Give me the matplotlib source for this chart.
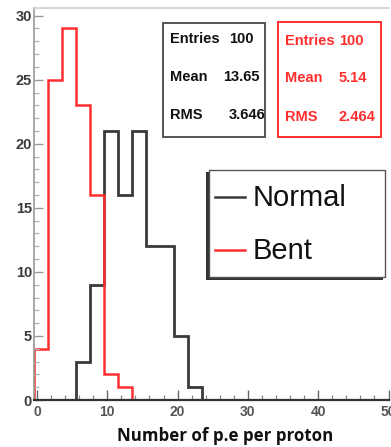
import numpy as np
import matplotlib
matplotlib.use('Agg')
import matplotlib.pyplot as plt
from matplotlib.patches import Rectangle
from matplotlib.lines import Line2D

# histogram binning: 25 bins of width 2 starting at -0.5
bin_start = -0.5
bin_width = 2.0
n_bins = 25

normal_counts = [0, 0, 0, 3, 9, 21, 16, 21, 12, 12, 5, 1, 0,
                 0, 0, 0, 0, 0, 0, 0, 0, 0, 0, 0, 0]
bent_counts = [4, 25, 29, 23, 16, 2, 1, 0, 0, 0, 0, 0, 0,
               0, 0, 0, 0, 0, 0, 0, 0, 0, 0, 0, 0]

normal_stats = [('Entries', '100'), ('Mean', '13.65'), ('RMS', '3.646')]
bent_stats = [('Entries', '100'), ('Mean', '5.14'), ('RMS', '2.464')]
legend_labels = ['Normal', 'Bent']
x_label = 'Number of p.e per proton'

BLACK = '#3a3a3a'
RED = '#ff2e2e'
W, H = 391, 447


def fx(px):
    return px / W


def fy(py):
    return 1 - py / H


fig = plt.figure(figsize=(W / 100, H / 100), dpi=100)
ax = fig.add_axes([fx(33.5), fy(400), (388.5 - 33.5) / W, (400 - 8) / H])

edges = bin_start + bin_width * np.arange(n_bins + 1)
ax.stairs(normal_counts, edges, color=BLACK, lw=2.0, baseline=0)
ax.stairs(bent_counts, edges, color=RED, lw=1.8, baseline=0)

ax.set_xlim(-0.5, 50)
ax.set_ylim(0, 30.6)
ax.set_xticks(range(0, 51, 10))
ax.set_xticks(np.arange(0, 51, 2), minor=True)
ax.set_yticks(range(0, 31, 5))
ax.set_yticks(range(0, 31), minor=True)

ax.spines['right'].set_visible(False)
ax.spines['top'].set_color('#d0d0d0')
ax.spines['top'].set_linewidth(1.2)
ax.spines['left'].set_color('#9a9a9a')
ax.spines['left'].set_linewidth(1.2)
ax.spines['bottom'].set_color('#333333')
ax.spines['bottom'].set_linewidth(1.6)

ax.tick_params(axis='both', which='both', direction='in', top=False, right=False)
ax.tick_params(axis='y', which='major', length=6.5, width=1, color='#9a9a9a', pad=1)
ax.tick_params(axis='y', which='minor', length=3.5, width=0.9, color='#b0b0b0')
ax.tick_params(axis='x', which='major', length=7, width=1, color='#666666', pad=3.5)
ax.tick_params(axis='x', which='minor', length=3.5, width=0.9, color='#888888')
for lab in ax.get_yticklabels():
    lab.set_fontfamily('Liberation Sans')
    lab.set_fontweight('bold')
    lab.set_fontsize(10.5)
    lab.set_color('#3a3a3a')
for lab in ax.get_xticklabels():
    lab.set_fontfamily('Liberation Sans')
    lab.set_fontweight('bold')
    lab.set_fontsize(10)
    lab.set_color('#555555')

fig.text(fx(225), fy(436), x_label, ha='center', va='center',
         fontfamily='Open Sans', fontweight='bold', fontsize=12.2, color='#111111')

# stats boxes
def stats_box(x0, x1, y0, y1, color, text_color, rows, label_x, val_right, val_left, row_y):
    fig.patches.append(Rectangle((fx(x0), fy(y1)), fx(x1) - fx(x0), fy(y0) - fy(y1),
                                 transform=fig.transFigure, fill=True, facecolor='white',
                                 edgecolor=color, lw=1.4))
    for i, (name, val) in enumerate(rows):
        fig.text(fx(label_x), fy(row_y[i]), name, ha='left', va='center', color=text_color,
                 fontfamily='Liberation Sans', fontweight='bold', fontsize=10.5)
        if i == 0:
            fig.text(fx(val_left), fy(row_y[i]), val, ha='left', va='center',
                     color=text_color, fontfamily='Liberation Sans', fontweight='bold',
                     fontsize=10.5)
        else:
            fig.text(fx(val_right[i]), fy(row_y[i]), val, ha='right', va='center',
                     color=text_color, fontfamily='Liberation Sans', fontweight='bold',
                     fontsize=10.5)


stats_box(163, 265, 23, 137, '#555555', '#111111', normal_stats, 170, [0, 260, 265], 229,
          [39, 77, 115])
stats_box(278, 381, 22, 137, RED, RED, bent_stats, 285, [0, 367, 375], 339,
          [41, 78, 117])

# legend box with shadow on left/bottom
fig.patches.append(Rectangle((fx(206), fy(280)), fx(383) - fx(206), fy(172) - fy(280),
                             transform=fig.transFigure, facecolor='#333333',
                             edgecolor='none'))
fig.patches.append(Rectangle((fx(209), fy(277)), fx(385) - fx(209), fy(170) - fy(277),
                             transform=fig.transFigure, facecolor='white',
                             edgecolor='#555555', lw=1.0))
for (label, color, yy) in zip(legend_labels, [BLACK, RED], [197, 250]):
    fig.lines.append(Line2D([fx(215), fx(245)], [fy(yy), fy(yy)], color=color,
                            lw=1.8, transform=fig.transFigure))
    fig.text(fx(253), fy(yy + 1), label, ha='left', va='center', color='#111111',
             fontfamily='Liberation Sans', fontsize=21)

fig.savefig('out.png', dpi=100)
